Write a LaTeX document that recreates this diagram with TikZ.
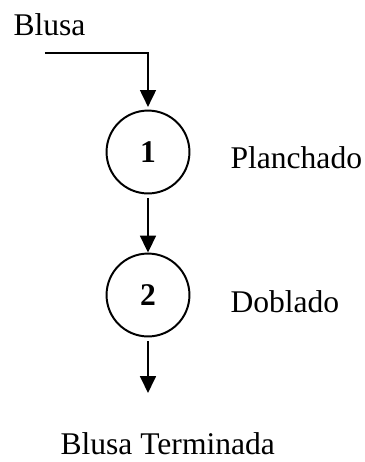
\documentclass[tikz,border=0pt]{standalone}
\usepackage{fontspec}
\setmainfont{Liberation Serif}
\usetikzlibrary{arrows.meta}

\tikzset{
  operacion/.style={circle, draw, line width=0.75pt, minimum size=31.5pt, inner sep=0pt,
    font=\fontsize{12}{14}\selectfont\bfseries},
  flecha/.style={-{Triangle[length=6.4pt,width=6pt]}, line width=0.75pt},
  etiqueta/.style={anchor=base west, inner sep=0pt}
}

\begin{document}
\begin{tikzpicture}[x=0.38pt, y=-0.38pt, font=\fontsize{12}{14}\selectfont]
      \useasboundingbox (0,0) rectangle (365,462);
      % Operations of the process
      \node[operacion] (p1) at (148,152) {1};
      \node[operacion] (p2) at (148,295) {2};

      % Labels
      \node[etiqueta] (blusa) at (13,35) {Blusa};
      \node[etiqueta] (plan) at (230,168) {Planchado};
      \node[etiqueta] (dobl) at (230,312) {Doblado};
      \node[etiqueta] (fin) at (60,454) {Blusa Terminada};

      % Flow
      \coordinate (entrada) at (45,53);
      \coordinate (salida) at (148,393);
      \draw[flecha] (entrada) -| ([yshift=1]p1.north);
      \draw[flecha, shorten <=1.5pt] (p1) -- (p2);
      \draw[flecha, shorten <=1.5pt] (p2) -- (salida);
    \end{tikzpicture}
\end{document}
